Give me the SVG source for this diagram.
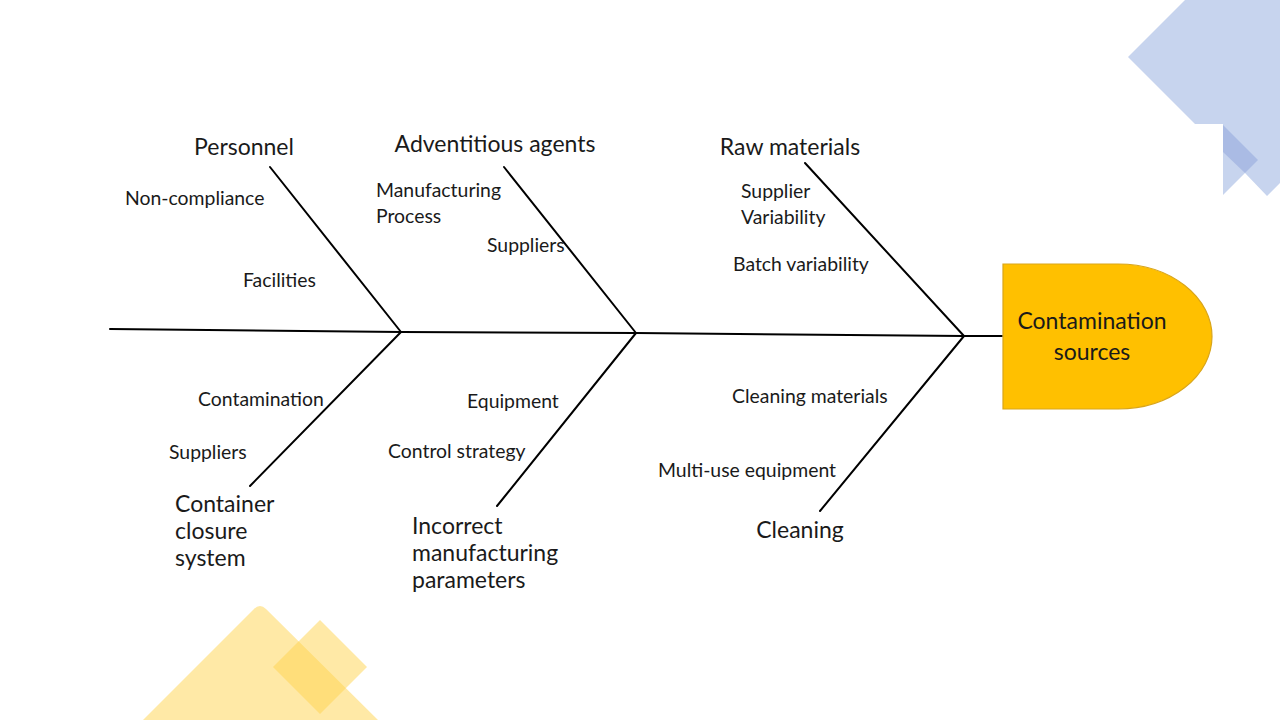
<svg xmlns="http://www.w3.org/2000/svg" width="1280" height="720" viewBox="0 0 1280 720">
<style>
.bone{stroke:#000;stroke-width:2;fill:none;stroke-linecap:round}
.h{font-family:Lato,"Open Sans","Liberation Sans",sans-serif;font-size:23px;fill:#1a1a1a}
.s{font-family:Lato,"Open Sans","Liberation Sans",sans-serif;font-size:19.4px;fill:#1a1a1a}
.y{fill:#FFD34E;opacity:0.5}
</style>
<rect width="1280" height="720" fill="#fff"/>
<g id="decor">
<path d="M1128,57 L1185,0 H1280 V183 L1267,196 L1245,173 L1223,195 V124 H1195 Z" fill="#C7D4EE"/>
<path d="M1223,125 L1258,160 L1245,173 L1223,152 Z" fill="#AABBE4"/>
<path class="y" d="M143,720 L254,609 Q260,603 266,609 L378,720 Z"/>
<path class="y" d="M320,620 L367,667 L320,714 L273,667 Z"/>
</g>
<g id="connectors">
<polyline class="bone" points="110,329 401,332 636,333 964,336 1002,336"/>
<line class="bone" x1="270" y1="167" x2="401" y2="332"/>
<line class="bone" x1="504" y1="167" x2="636" y2="333"/>
<line class="bone" x1="805" y1="163" x2="964" y2="336"/>
<line class="bone" x1="401" y1="332" x2="250" y2="486"/>
<line class="bone" x1="636" y1="333" x2="497" y2="506"/>
<line class="bone" x1="964" y1="336" x2="820" y2="511"/>
</g>
<g id="head">
<path d="M1003,264 H1118 A94,72.5 0 0 1 1118,409 H1003 Z" fill="#FFC000" stroke="#D9A51A" stroke-width="1.2"/>
<text class="h" x="1092" y="329" text-anchor="middle">Contamination</text>
<text class="h" x="1092" y="360" text-anchor="middle">sources</text>
</g>
<g id="personnel">
<text class="h" x="244" y="155" text-anchor="middle">Personnel</text>
<text class="s" x="125" y="205">Non-compliance</text>
<text class="s" x="243" y="287">Facilities</text>
</g>
<g id="adventitious">
<text class="h" x="495" y="152" text-anchor="middle">Adventitious agents</text>
<text class="s" x="376" y="197">Manufacturing</text>
<text class="s" x="376" y="223">Process</text>
<text class="s" x="487" y="252">Suppliers</text>
</g>
<g id="raw">
<text class="h" x="790" y="155" text-anchor="middle">Raw materials</text>
<text class="s" x="741" y="198">Supplier</text>
<text class="s" x="741" y="224">Variability</text>
<text class="s" x="733" y="271">Batch variability</text>
</g>
<g id="container">
<text class="s" x="198" y="406">Contamination</text>
<text class="s" x="169" y="459">Suppliers</text>
<text class="h" x="175" y="512">Container</text>
<text class="h" x="175" y="539">closure</text>
<text class="h" x="175" y="566">system</text>
</g>
<g id="incorrect">
<text class="s" x="467" y="408">Equipment</text>
<text class="s" x="388" y="458">Control strategy</text>
<text class="h" x="412" y="534">Incorrect</text>
<text class="h" x="412" y="561">manufacturing</text>
<text class="h" x="412" y="588">parameters</text>
</g>
<g id="cleaning">
<text class="s" x="732" y="403">Cleaning materials</text>
<text class="s" x="658" y="477">Multi-use equipment</text>
<text class="h" x="800" y="538" text-anchor="middle">Cleaning</text>
</g>
</svg>
